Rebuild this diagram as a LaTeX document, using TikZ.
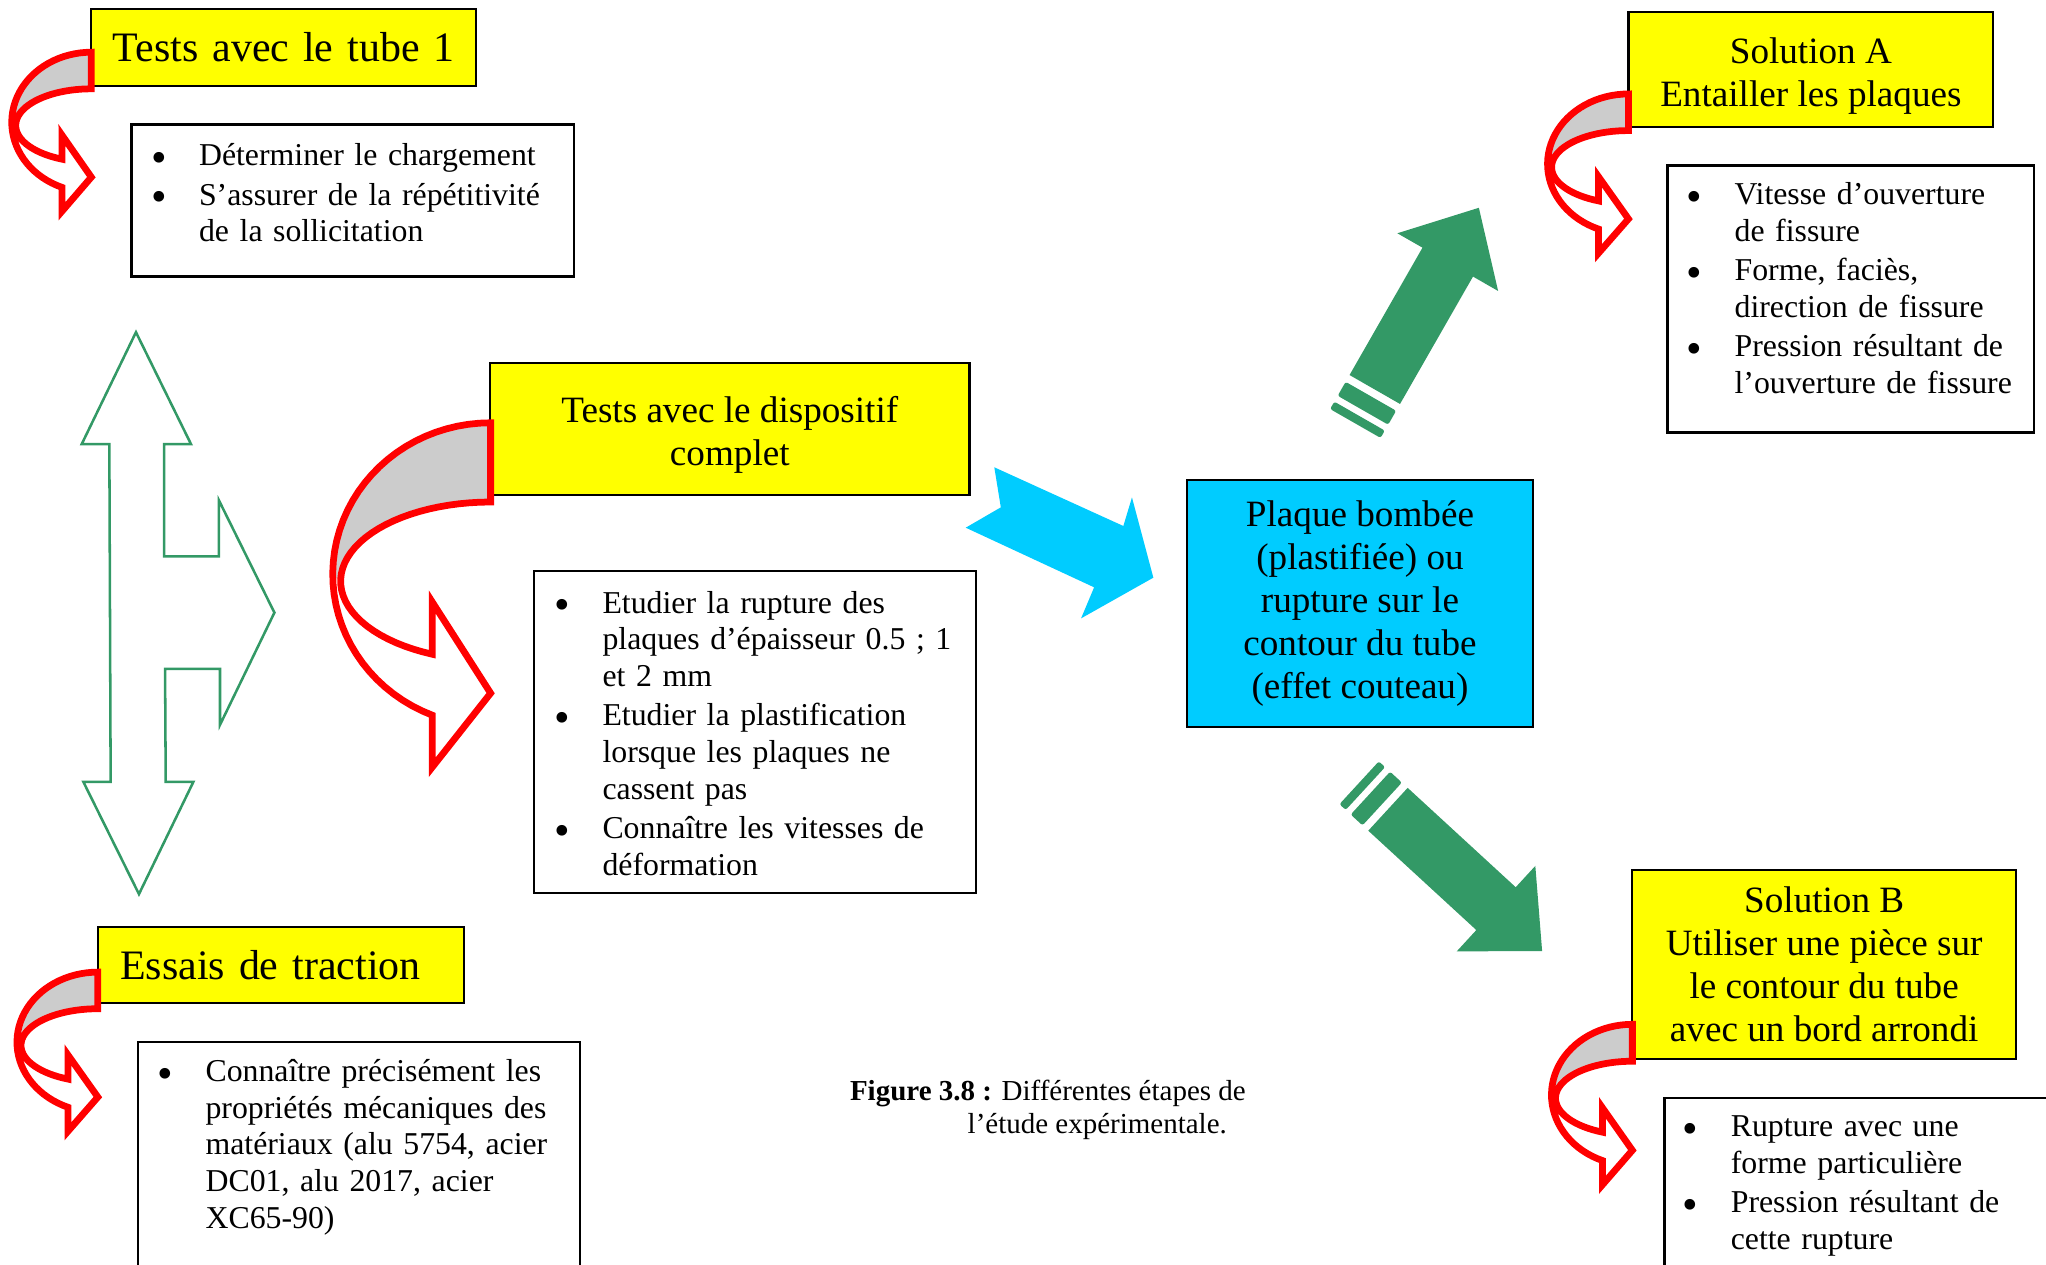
\documentclass[tikz,border=0pt]{standalone}
\usepackage{fontspec}
\setmainfont{Liberation Serif}
\usepackage{graphicx}
\usepackage{tikz}

\definecolor{hdryellow}{HTML}{FFFF00}
\definecolor{platecyan}{HTML}{00CCFF}
\definecolor{seagreen}{HTML}{339966}
\definecolor{bandgray}{HTML}{CCCCCC}
\definecolor{bendred}{HTML}{FF0000}

\newcommand{\bul}{\makebox[0.6cm][l]{\raisebox{-0.21em}[0.45em][0pt]{\scalebox{1.4}{\textbullet}}}}
\newcommand{\ind}{\hspace*{0.6cm}}

\begin{document}
\begin{tikzpicture}[
  x=0.0163cm, y=-0.0163cm,
  hdr/.style={draw, fill=hdryellow, line width=0.8pt, inner sep=0pt, align=center, font=\fontsize{13.2}{15.3}\selectfont},
  bighdr/.style={hdr, align=left, font=\fontsize{14.9}{18}\selectfont},
  listbox/.style={draw, line width=0.8pt, inner sep=0pt, anchor=north west},
  listtext/.style={anchor=base west, inner sep=0pt, align=left, text width=7cm, font=\fontsize{11.3}{13}\selectfont},
  bendarrow/.pic={
    \fill[white] plot[domain=90:248.3, samples=40] ({1+cos(\x)},{0.44-0.44*sin(\x)})
      -- (0.63,1) -- (1,0.785) -- (0.63,0.52)
      -- plot[domain=247.1:90, samples=40] ({1+0.95*cos(\x)},{0.46-0.23*sin(\x)}) -- cycle;
    \fill[bandgray] plot[domain=90:180, samples=30] ({1+cos(\x)},{0.44-0.44*sin(\x)})
      -- plot[domain=180:90, samples=30] ({1+0.95*cos(\x)},{0.46-0.23*sin(\x)}) -- cycle;
    \draw[bendred, line width=2.4pt] plot[domain=90:248.3, samples=40] ({1+cos(\x)},{0.44-0.44*sin(\x)})
      -- (0.63,1) -- (1,0.785) -- (0.63,0.52)
      -- plot[domain=247.1:90, samples=40] ({1+0.95*cos(\x)},{0.46-0.23*sin(\x)}) -- cycle;
  },
  greenarrow/.pic={
    \fill[seagreen] (0,-22.3) -- (112.5,-22.3) -- (112.5,-44.5) -- (160.5,0) -- (112.5,44.5) -- (112.5,22.3) -- (0,22.3) -- cycle;
    \fill[seagreen, rounded corners=0.8pt] (-18.3,-22.3) rectangle (-6,22.3);
    \fill[seagreen, rounded corners=0.8pt] (-30,-22.3) rectangle (-23.5,22.3);
  }
]
\useasboundingbox (0,0) rectangle (1568,969);
\clip (0,0) rectangle (1568,969);

\node[bighdr, text width=4.809cm, minimum height=0.962cm] (tube) at (217.5,36.5) {\hspace*{0.27cm}Tests avec le tube 1};
\node[listbox, minimum width=5.526cm, minimum height=1.899cm] (tubelist) at (100,94.5) {};
\node[listtext] (tubetxt) at (115.3,127) {\bul Déterminer le chargement\\[1pt]\bul S’assurer de la répétitivité\\\ind de la sollicitation};
\pic[xscale=61, yscale=122] at (9,40) {bendarrow};

\draw[seagreen, line width=0.9pt] (104.2,254.6) -- (146.4,340.4) -- (125.7,340.4) -- (125.7,426.4) -- (167.8,426.4) -- (167.8,383.5) -- (210.3,469.5) -- (168.6,555.5) -- (168.6,512.6) -- (126.5,512.6) -- (127,599.2) -- (148.2,599.2) -- (106.5,685.2) -- (63.9,599.2) -- (84.8,599.2) -- (83.8,340.4) -- (62.6,340.4) -- cycle;

\node[hdr, minimum width=5.989cm, minimum height=1.653cm, text height=25.7pt, text depth=0pt] (dispositif) at (559.3,328.7) {Tests avec le dispositif\\complet};
\node[listbox, minimum width=5.516cm, minimum height=4.016cm] (displist) at (408.6,437) {};
\node[listtext] (disptxt) at (424.5,470) {\bul Etudier la rupture des\\\ind plaques d’épaisseur 0.5 ; 1\\\ind et 2 mm\\[1pt]\bul Etudier la plastification\\\ind lorsque les plaques ne\\\ind cassent pas\\[1pt]\bul Connaître les vitesses de\\\ind déformation};
\pic[xscale=121, yscale=264] at (255,324) {bendarrow};

\node[bighdr, text width=4.569cm, minimum height=0.941cm] (traction) at (215.15,739.55) {\hspace*{0.28cm}Essais de traction};
\node[listbox, minimum width=5.519cm, minimum height=3.5cm] (tractlist) at (104.8,797.8) {};
\node[listtext] (tracttxt) at (120.3,829) {\bul Connaître précisément les\\\ind propriétés mécaniques des\\\ind matériaux (alu 5754, acier\\\ind DC01, alu 2017, acier\\\ind XC65-90)};
\pic[xscale=62, yscale=122] at (13,745) {bendarrow};

\fill[platecyan] (762,358.1) -- (860.9,403.1) -- (867.5,381.2) -- (883.9,442.7) -- (828.5,473.9) -- (838.5,450.1) -- (740.1,404.4) -- (767,388.8) -- cycle;

\node[hdr, fill=platecyan, minimum width=4.328cm, minimum height=3.081cm] (plaque) at (1042.25,462.5) {Plaque bombée\\(plastifiée) ou\\rupture sur le\\contour du tube\\(effet couteau)};

\pic[rotate=60.2] at (1053.6,298.5) {greenarrow};
\pic[rotate=-42.6] at (1063.7,620.2) {greenarrow};

\node[hdr, minimum width=4.557cm, minimum height=1.43cm, text height=26.1pt, text depth=0pt] (solA) at (1387.8,53.35) {Solution A\\Entailler les plaques};
\node[listbox, minimum width=4.574cm, minimum height=3.333cm] (solAlist) at (1277,126) {};
\node[listtext] (solAtxt) at (1292.1,156.9) {\bul Vitesse d’ouverture\\\ind de fissure\\[1pt]\bul Forme, faciès,\\\ind direction de fissure\\[1pt]\bul Pression résultant de\\\ind l’ouverture de fissure};
\pic[xscale=62, yscale=122] at (1186,72) {bendarrow};

\node[hdr, minimum width=4.792cm, minimum height=2.357cm, text height=54.7pt, text depth=0pt] (solB) at (1398,739.3) {Solution B\\Utiliser une pièce sur\\le contour du tube\\avec un bord arrondi};
\node[listbox, minimum width=5.3cm, minimum height=3cm] (solBlist) at (1274.8,840.5) {};
\node[listtext] (solBtxt) at (1289.2,871.2) {\bul Rupture avec une\\\ind forme particulière\\[1pt]\bul Pression résultant de\\\ind cette rupture};
\pic[xscale=62, yscale=123] at (1189,785) {bendarrow};

\node[anchor=base west, inner sep=0pt, align=left, font=\fontsize{10.3}{12}\selectfont] (caption) at (651,869) {\textbf{Figure 3.8 :} Différentes étapes de\\\hspace*{1.47cm}l’étude expérimentale.};
\end{tikzpicture}
\end{document}
